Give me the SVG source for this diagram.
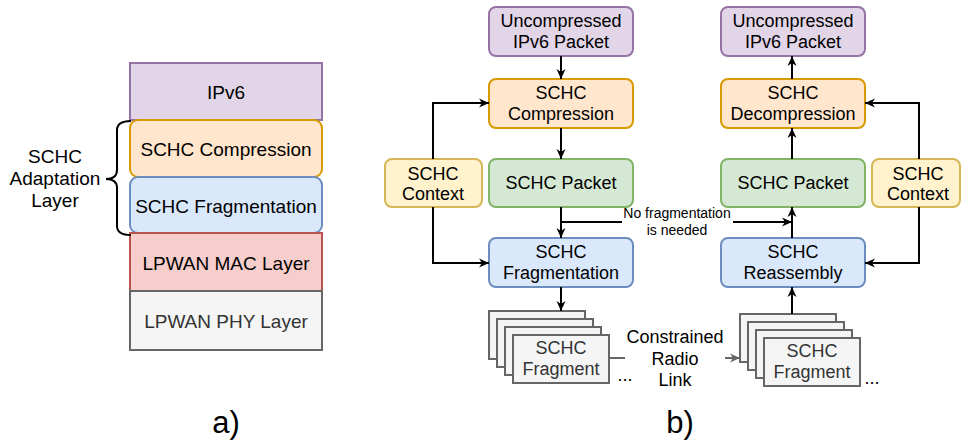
<svg xmlns="http://www.w3.org/2000/svg" width="961" height="441" viewBox="0 0 961 441">
<defs>
<style>
text{font-family:"Liberation Sans",Arial,sans-serif;text-anchor:middle;fill:#000}
.t19{font-size:19px}
.t18{font-size:18px}
.t14{font-size:14px}
.gray{fill:#333333}
.purple{fill:#e1d5e7;stroke:#9673a6;stroke-width:2}
.orange{fill:#ffe6cc;stroke:#d79b00;stroke-width:2}
.blue{fill:#dae8fc;stroke:#6c8ebf;stroke-width:2}
.red{fill:#f8cecc;stroke:#b85450;stroke-width:2}
.grey{fill:#f5f5f5;stroke:#666666;stroke-width:2}
.green{fill:#d5e8d4;stroke:#82b366;stroke-width:2}
.yellow{fill:#fff2cc;stroke:#d6b656;stroke-width:2}
.ln{fill:none;stroke:#000;stroke-width:2}
.arr{fill:none;stroke:#000;stroke-width:2;marker-end:url(#ah)}
.garr{fill:none;stroke:#666666;stroke-width:2}
</style>
<marker id="ah" markerUnits="userSpaceOnUse" markerWidth="12" markerHeight="12" viewBox="0 0 12 12" refX="11" refY="6" orient="auto">
<path d="M1,1.5 L11,6 L1,10.5 L4,6 z" fill="#000"/>
</marker>
<marker id="gah" markerUnits="userSpaceOnUse" markerWidth="12" markerHeight="12" viewBox="0 0 12 12" refX="11" refY="6" orient="auto">
<path d="M1,1.5 L11,6 L1,10.5 L4,6 z" fill="#666666"/>
</marker>
</defs>
<rect width="961" height="441" fill="#ffffff"/>

<!-- a) layer stack -->
<g id="a-ipv6"><rect class="purple" x="130" y="63" width="192" height="57"/><text class="t19" x="226" y="99">IPv6</text></g>
<g id="a-comp"><rect class="orange" x="130" y="120" width="192" height="57" rx="8"/><text class="t19" x="226" y="156">SCHC Compression</text></g>
<g id="a-frag"><rect class="blue" x="130" y="177" width="192" height="56" rx="8"/><text class="t19" x="226" y="213">SCHC Fragmentation</text></g>
<g id="a-mac"><rect class="red" x="130" y="233" width="192" height="58"/><text class="t19" x="226" y="270">LPWAN MAC Layer</text></g>
<g id="a-phy"><rect class="grey" x="130" y="291" width="192" height="59"/><text class="t19 gray" x="226" y="328">LPWAN PHY Layer</text></g>
<g id="a-brace">
<path class="ln" d="M131,121 Q117,121 117,130 L117,170 Q117,179 106,179 Q117,179 117,188 L117,226 Q117,235 131,235"/>
<text class="t19" x="55" y="163">SCHC</text>
<text class="t19" x="55" y="185">Adaptation</text>
<text class="t19" x="55" y="207">Layer</text>
</g>
<text id="label-a" x="226" y="433" style="font-size:31px">a)</text>

<!-- b) sender -->
<g id="s-ipv6"><rect class="purple" x="489" y="7" width="144" height="49" rx="7"/><text class="t18" x="561" y="27">Uncompressed</text><text class="t18" x="561" y="48">IPv6 Packet</text></g>
<g id="s-comp"><rect class="orange" x="489" y="79" width="144" height="49" rx="7"/><text class="t18" x="561" y="99">SCHC</text><text class="t18" x="561" y="120">Compression</text></g>
<g id="s-pkt"><rect class="green" x="489" y="159" width="144" height="48" rx="7"/><text class="t18" x="561" y="189">SCHC Packet</text></g>
<g id="s-frag"><rect class="blue" x="489" y="238" width="144" height="49" rx="7"/><text class="t18" x="561" y="258">SCHC</text><text class="t18" x="561" y="279">Fragmentation</text></g>
<g id="s-ctx"><rect class="yellow" x="385" y="159" width="97" height="48" rx="7"/><text class="t18" x="433" y="180">SCHC</text><text class="t18" x="433" y="200">Context</text></g>
<g id="s-frags">
<rect class="grey" x="489" y="311" width="96" height="48"/>
<rect class="grey" x="497" y="319" width="96" height="48"/>
<rect class="grey" x="505" y="327" width="96" height="48"/>
<rect class="grey" x="513" y="335" width="96" height="48"/>
<text class="t18 gray" x="561" y="354">SCHC</text><text class="t18 gray" x="561" y="375">Fragment</text>
<text class="t18" x="625" y="381">...</text>
</g>

<!-- b) receiver -->
<g id="r-ipv6"><rect class="purple" x="721" y="7" width="144" height="49" rx="7"/><text class="t18" x="793" y="27">Uncompressed</text><text class="t18" x="793" y="48">IPv6 Packet</text></g>
<g id="r-decomp"><rect class="orange" x="721" y="79" width="144" height="49" rx="7"/><text class="t18" x="793" y="99">SCHC</text><text class="t18" x="793" y="120">Decompression</text></g>
<g id="r-pkt"><rect class="green" x="721" y="159" width="144" height="48" rx="7"/><text class="t18" x="793" y="189">SCHC Packet</text></g>
<g id="r-reass"><rect class="blue" x="721" y="238" width="144" height="49" rx="7"/><text class="t18" x="793" y="258">SCHC</text><text class="t18" x="793" y="279">Reassembly</text></g>
<g id="r-ctx"><rect class="yellow" x="872" y="159" width="88" height="48" rx="7"/><text class="t18" x="918" y="180">SCHC</text><text class="t18" x="918" y="200">Context</text></g>
<g id="r-frags">
<rect class="grey" x="740" y="314" width="96" height="48"/>
<rect class="grey" x="748" y="322" width="96" height="48"/>
<rect class="grey" x="756" y="330" width="96" height="48"/>
<rect class="grey" x="764" y="338" width="96" height="48"/>
<text class="t18 gray" x="812" y="357">SCHC</text><text class="t18 gray" x="812" y="378">Fragment</text>
<text class="t18" x="872" y="384">...</text>
</g>

<g id="link-label">
<text class="t18" x="675" y="343">Constrained</text>
<text class="t18" x="675" y="365">Radio</text>
<text class="t18" x="675" y="386">Link</text>
</g>
<g id="nofrag-label">
<text class="t14" x="677" y="218">No fragmentation</text>
<text class="t14" x="677" y="235">is needed</text>
</g>
<text id="label-b" x="680" y="433" style="font-size:31px">b)</text>

<!-- connectors -->
<g id="connectors">
<path class="arr" d="M561,56 V79"/>
<path class="arr" d="M561,128 V159"/>
<path class="arr" d="M561,207 V238"/>
<path class="arr" d="M561,287 V311"/>
<path class="arr" d="M433,159 V103 H489"/>
<path class="arr" d="M433,207 V263 H489"/>
<path class="ln" d="M561,222 H622"/>
<path class="arr" d="M733,222 H792"/>
<path class="arr" d="M792,238 V207"/>
<path class="arr" d="M792,159 V128"/>
<path class="arr" d="M792,79 V56"/>
<path class="arr" d="M792,314 V287"/>
<path class="arr" d="M919,159 V103 H865"/>
<path class="arr" d="M919,207 V263 H865"/>
<path class="garr" d="M609,358 H625"/>
<path class="garr" d="M725,358 H740" marker-end="url(#gah)"/>
</g>
</svg>
